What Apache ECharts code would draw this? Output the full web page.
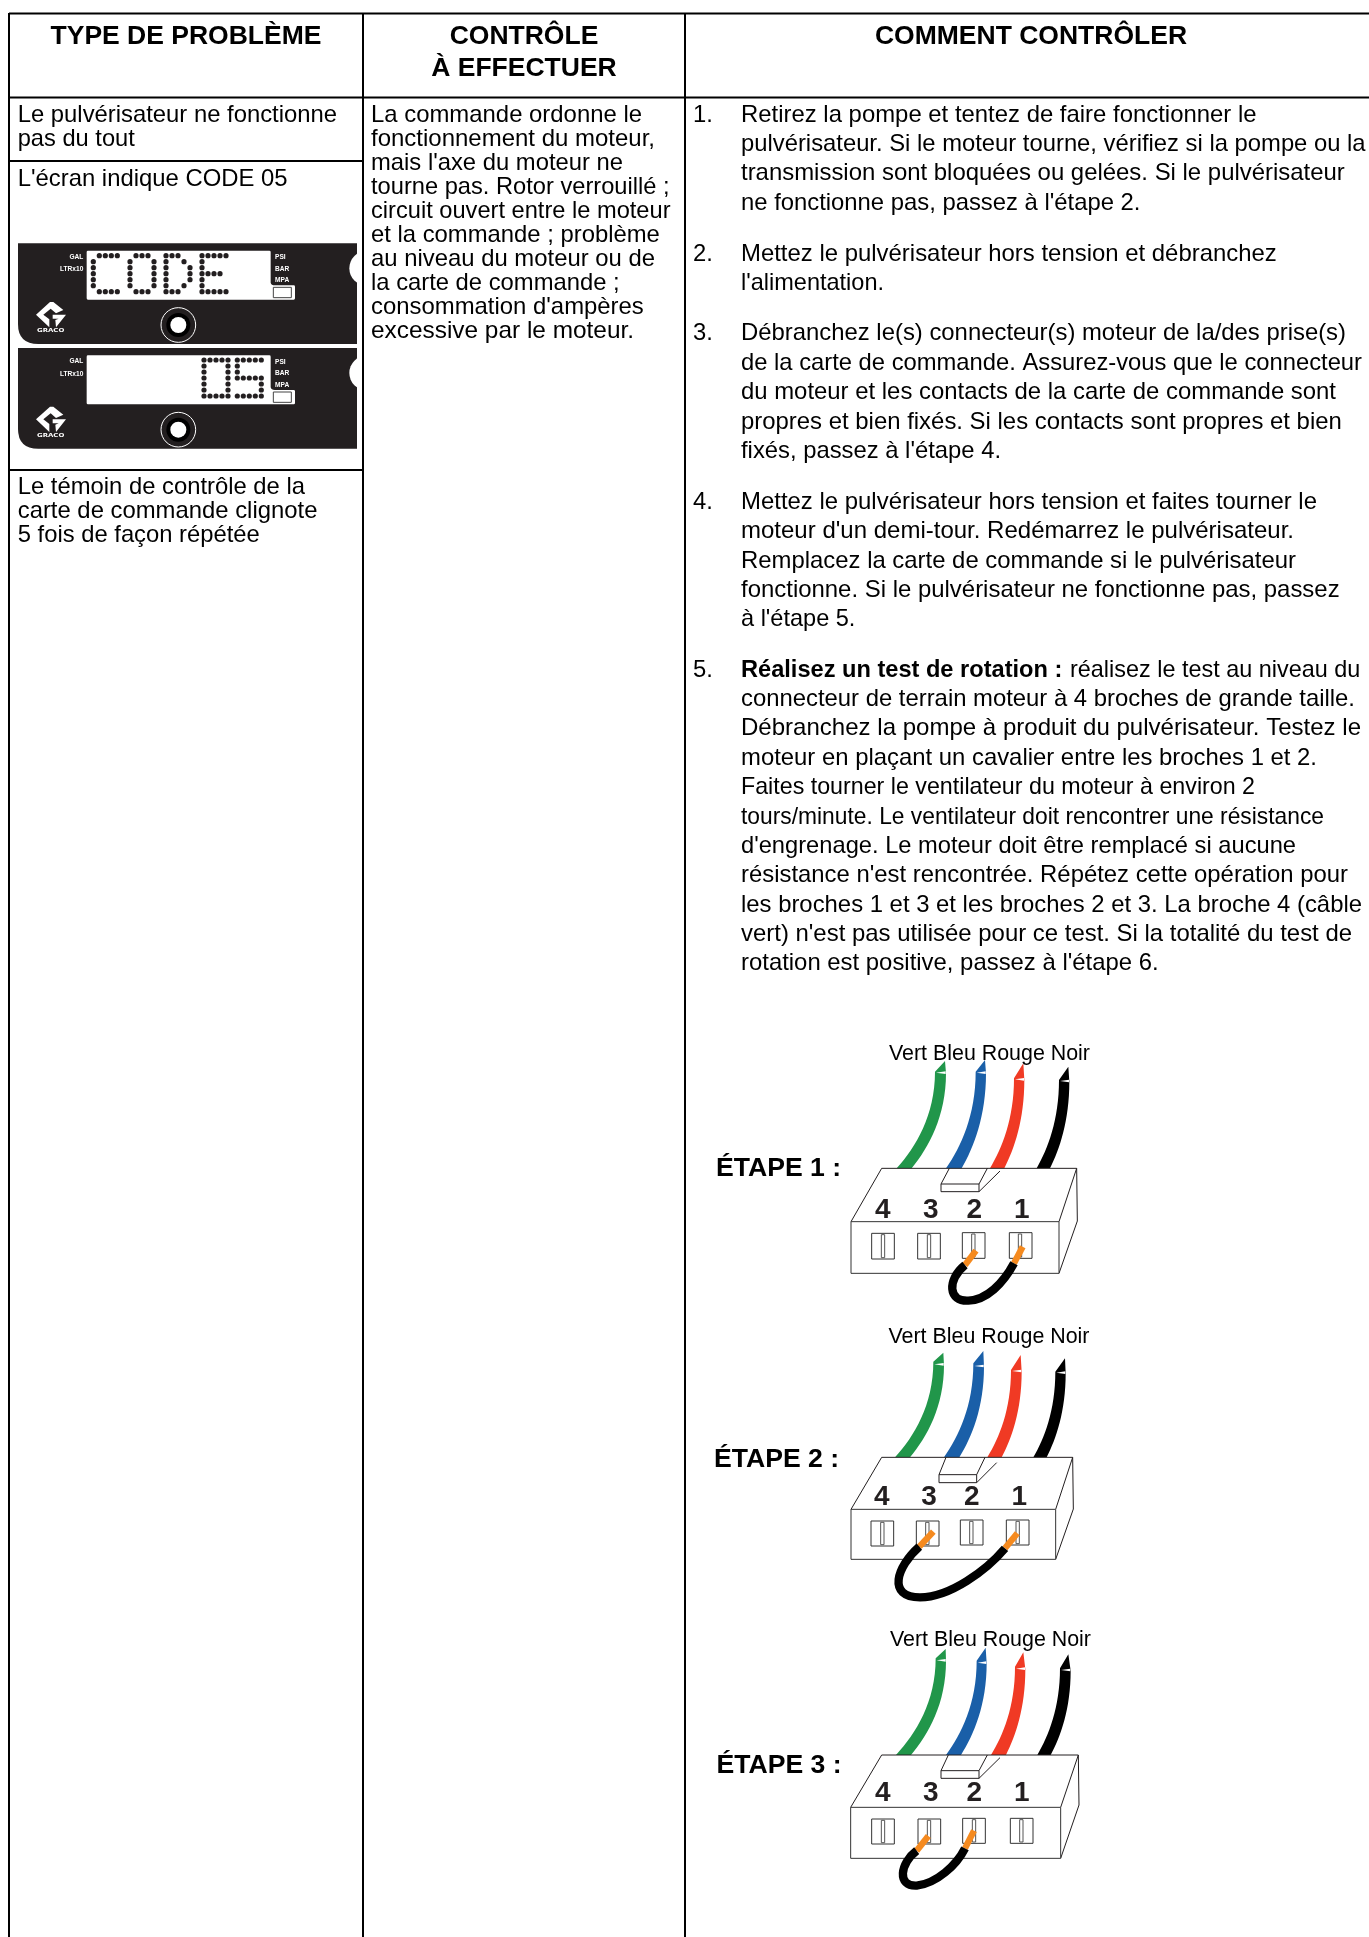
<!DOCTYPE html>
<html>
<head>
<meta charset="utf-8">
<title>Type de problème</title>
<script src="https://cdn.jsdelivr.net/npm/echarts@6/dist/echarts.min.js"></script>
<style>
  html, body { margin: 0; padding: 0; background: #fff; }
  #main { width: 1369px; height: 1937px; }
</style>
</head>
<body>
<div id="main"></div>
<script>
// texts of the table
const headerType = ['TYPE DE PROBLÈME']
const headerCheck = ['CONTRÔLE', 'À EFFECTUER']
const headerHow = ['COMMENT CONTRÔLER']

const typeSpray = ['Le pulvérisateur ne fonctionne', 'pas du tout']
const typeScreen = ["L'écran indique CODE 05"]
const typeLed = ['Le témoin de contrôle de la', 'carte de commande clignote', '5 fois de façon répétée']

const checkLines = [
  'La commande ordonne le',
  'fonctionnement du moteur,',
  "mais l'axe du moteur ne",
  'tourne pas. Rotor verrouillé ;',
  'circuit ouvert entre le moteur',
  'et la commande ; problème',
  'au niveau du moteur ou de',
  'la carte de commande ;',
  "consommation d'ampères",
  'excessive par le moteur.'
]

const step1 = [
  'Retirez la pompe et tentez de faire fonctionner le',
  'pulvérisateur. Si le moteur tourne, vérifiez si la pompe ou la',
  'transmission sont bloquées ou gelées. Si le pulvérisateur',
  "ne fonctionne pas, passez à l'étape 2."
]
const step2 = [
  'Mettez le pulvérisateur hors tension et débranchez',
  "l'alimentation."
]
const step3 = [
  'Débranchez le(s) connecteur(s) moteur de la/des prise(s)',
  'de la carte de commande. Assurez-vous que le connecteur',
  'du moteur et les contacts de la carte de commande sont',
  'propres et bien fixés. Si les contacts sont propres et bien',
  "fixés, passez à l'étape 4."
]
const step4 = [
  'Mettez le pulvérisateur hors tension et faites tourner le',
  "moteur d'un demi-tour. Redémarrez le pulvérisateur.",
  'Remplacez la carte de commande si le pulvérisateur',
  'fonctionne. Si le pulvérisateur ne fonctionne pas, passez',
  "à l'étape 5."
]
const step5Bold = 'Réalisez un test de rotation :'
const step5First = 'réalisez le test au niveau du'
const step5 = [
  'connecteur de terrain moteur à 4 broches de grande taille.',
  'Débranchez la pompe à produit du pulvérisateur. Testez le',
  'moteur en plaçant un cavalier entre les broches 1 et 2.',
  'Faites tourner le ventilateur du moteur à environ 2',
  'tours/minute. Le ventilateur doit rencontrer une résistance',
  "d'engrenage. Le moteur doit être remplacé si aucune",
  "résistance n'est rencontrée. Répétez cette opération pour",
  'les broches 1 et 3 et les broches 2 et 3. La broche 4 (câble',
  "vert) n'est pas utilisée pour ce test. Si la totalité du test de",
  "rotation est positive, passez à l'étape 6."
]

const wireNames = 'Vert Bleu Rouge Noir'
const wireColors = ['#21964a', '#1a5fa8', '#f03a24', '#000000']
const pinNames = ['4', '3', '2', '1']
const stageNames = ['ÉTAPE 1 :', 'ÉTAPE 2 :', 'ÉTAPE 3 :']
const panelLeftLabels = ['GAL', 'LTRx10']
const panelRightLabels = ['PSI', 'BAR', 'MPA']

// dot matrix glyphs of the display
const glyphC = ['.XXXX', 'X....', 'X....', 'X....', 'X....', 'X....', '.XXXX']
const glyphO = ['.XXX.', 'X...X', 'X...X', 'X...X', 'X...X', 'X...X', '.XXX.']
const glyphD = ['XXX..', 'X..X.', 'X...X', 'X...X', 'X...X', 'X..X.', 'XXX..']
const glyphE = ['XXXXX', 'X....', 'X....', 'XXXX.', 'X....', 'X....', 'XXXXX']
const glyph0 = ['XXXXX', 'X...X', 'X...X', 'X...X', 'X...X', 'X...X', 'XXXXX']
const glyph5 = ['XXXXX', 'X....', 'X....', 'XXXXX', '....X', '....X', 'XXXXX']

// right end of each text line on the page, the source sets them tighter or looser line by line
const endsSpray = [337, 134.8]
const endsScreen = [287.5]
const endsLed = [305, 317.4, 259.8]
const endsCheck = [642, 655, 623, 669.6, 670.5, 659.8, 655, 619.6, 643.8, 634]
const endsStep1 = [1256.5, 1365.6, 1344.8, 1140.4]
const endsStep2 = [1276.8, 884]
const endsStep3 = [1346, 1362, 1336, 1341.8, 1001]
const endsStep4 = [1317, 1294, 1296, 1339.6, 855.4]
const endsStep5 = [1355, 1361, 1317, 1255, 1324, 1296, 1348, 1362, 1352, 1158.6]

const FONT = '"Liberation Sans", Arial, sans-serif'
const NARROW = '"Liberation Sans Narrow", ' + FONT
const BODY = 23.8
const BLACK = '#000'
const DARK = '#231f20'

const elements = []
const measureCtx = document.createElement('canvas').getContext('2d')

function fontOf(size, bold, family) {
  return (bold ? 'bold ' : '') + size + 'px ' + (family || FONT)
}

function text(x, y, str, size, opt) {
  opt = opt || {}
  return {
    type: 'text',
    x: x,
    y: y,
    scaleX: opt.scaleX || 1,
    silent: true,
    style: {
      text: str,
      fill: opt.fill || BLACK,
      align: opt.align || 'left',
      verticalAlign: 'middle',
      font: fontOf(size, opt.bold, opt.family)
    }
  }
}

// squeeze or stretch one line so it stops at endX
function fitted(x, y, str, size, endX, bold) {
  measureCtx.font = fontOf(size, bold)
  const w = measureCtx.measureText(str).width
  return text(x, y, str, size, { bold: bold, scaleX: (endX - x) / w })
}

function textBlock(x, y, lines, size, pitch, opt) {
  lines.forEach(function (l, i) {
    elements.push(text(x, y + i * pitch, l, size, opt))
  })
}

function fittedBlock(x, y, lines, ends, pitch) {
  lines.forEach(function (l, i) {
    elements.push(fitted(x, y + i * pitch, l, BODY, ends[i]))
  })
}

function tableLine(x1, y1, x2, y2) {
  elements.push({
    type: 'line',
    silent: true,
    shape: { x1: x1, y1: y1, x2: x2, y2: y2 },
    style: { stroke: BLACK, lineWidth: 2 }
  })
}

function path(d, fill, stroke, lw) {
  return { type: 'path', silent: true, shape: { pathData: d }, style: { fill: fill || 'none', stroke: stroke || 'none', lineWidth: lw || 0 } }
}

// the two black display panels, drawn in a frame 3 times the real size
function panel(offsetY) {
  const c = []
  c.push(path('M54,40 L1071,40 L1071,342 L115,342 Q54,342 54,282 Z', DARK))
  c.push({ type: 'circle', silent: true, shape: { cx: 1100, cy: 115, r: 52 }, style: { fill: '#fff' } })
  c.push(path('M264,62 L808,62 Q812,62 812,66 L812,158 Q814,166 824,166 L881,166 Q885,166 885,170 L885,205 Q885,209 881,209 L264,209 Q260,209 260,205 L260,66 Q260,62 264,62 Z', '#fff'))
  c.push({ type: 'rect', silent: true, shape: { x: 820, y: 172, width: 54, height: 31 }, style: { fill: '#fff', stroke: '#444', lineWidth: 3 } })
  panelLeftLabels.forEach(function (l, i) {
    c.push(text(250, 80 + i * 37, l, 22, { fill: '#fff', align: 'right', bold: true, family: NARROW, scaleX: 0.9 }))
  })
  panelRightLabels.forEach(function (l, i) {
    c.push(text(825, 81 + i * 35, l, 22, { fill: '#fff', bold: true, family: NARROW, scaleX: 0.9 }))
  })
  // logo
  c.push(path('M150,216 L108,254 L148,292 L148,268 L130,254 L152,236 L168,250 L190,240 L160,216 Z', '#fff'))
  c.push(path('M158,254 L198,254 L168,292 L166,270 L176,266 L158,266 Z', '#fff'))
  c.push(text(152, 303, 'GRACO', 16, { fill: '#fff', align: 'center', bold: true, family: '"DejaVu Sans", ' + FONT, scaleX: 1.3 }))
  // knob
  c.push({ type: 'circle', silent: true, shape: { cx: 535, cy: 285, r: 52 }, style: { fill: DARK, stroke: '#fff', lineWidth: 3 } })
  c.push({ type: 'circle', silent: true, shape: { cx: 535, cy: 285, r: 36 }, style: { fill: '#000' } })
  c.push({ type: 'circle', silent: true, shape: { cx: 535, cy: 285, r: 24 }, style: { fill: '#fff' } })
  elements.push({ type: 'group', x: 0, y: offsetY, scaleX: 1 / 3, scaleY: 1 / 3, children: c })
}

const connectorLayout = [
  {
    oy: 1030, top: 415, xl: 545, xr: 1130, fl: 453, fr: 1077, ft: 575, fb: 730, rb: 573,
    latch: [723, 462, 114, 23, 748, 862, 900, 423], pinY: 540, pins: [548, 692, 823, 965],
    sockets: [[515, 610, 544], [653, 610, 682], [787, 608, 815], [928, 608, 955]], sh: 77,
    wires: [
      [590, 635, 705, 125, 738, 130, 735, 93],
      [738, 785, 827, 125, 858, 130, 855, 90],
      [870, 913, 942, 145, 973, 150, 970, 100],
      [1010, 1050, 1077, 150, 1108, 155, 1105, 110]
    ],
    jumper: 'M795,705 C740,750 745,815 805,812 C860,810 910,760 942,700',
    tips: [[795, 705, 828, 662], [942, 700, 968, 650]]
  },
  {
    oy: 1320, top: 412, xl: 545, xr: 1118, fl: 453, fr: 1067, ft: 568, fb: 718, rb: 567,
    latch: [717, 464, 113, 24, 738, 855, 890, 428], pinY: 533, pins: [545, 687, 815, 958],
    sockets: [[513, 603, 542], [649, 603, 677], [781, 600, 809], [919, 600, 948]], sh: 75,
    wires: [
      [585, 630, 700, 125, 732, 135, 730, 98],
      [732, 778, 820, 130, 852, 140, 850, 93],
      [862, 905, 933, 150, 965, 155, 962, 105],
      [1000, 1040, 1066, 155, 1097, 160, 1095, 115]
    ],
    jumper: 'M658,680 C590,740 560,832 660,832 C750,832 860,750 915,685',
    tips: [[658, 680, 700, 635], [915, 685, 952, 640]]
  },
  {
    oy: 1620, top: 405, xl: 545, xr: 1135, fl: 452, fr: 1082, ft: 562, fb: 715, rb: 555,
    latch: [723, 452, 114, 23, 745, 862, 900, 413], pinY: 520, pins: [548, 692, 823, 965],
    sockets: [[515, 597, 544], [654, 597, 682], [788, 595, 817], [931, 595, 959]], sh: 75,
    wires: [
      [588, 633, 707, 115, 738, 123, 737, 87],
      [738, 783, 830, 122, 860, 130, 857, 83],
      [873, 918, 945, 140, 976, 148, 970, 97],
      [1012, 1052, 1080, 145, 1112, 152, 1105, 103]
    ],
    jumper: 'M650,692 C600,730 590,800 650,797 C710,790 770,735 795,685',
    tips: [[650, 692, 685, 648], [795, 685, 822, 632]]
  }
]

function seg(x1, y1, x2, y2, lw, color) {
  return {
    type: 'line',
    silent: true,
    shape: { x1: x1, y1: y1, x2: x2, y2: y2 },
    style: { stroke: color || DARK, lineWidth: lw || 3 }
  }
}

function connector(g) {
  const c = []
  const t = g.top
  g.wires.forEach(function (w, i) {
    const bl = w[0], br = w[1], tlx = w[2], tly = w[3], trx = w[4], try_ = w[5], tipx = w[6], tipy = w[7]
    const d = 'M' + bl + ',' + t +
      ' C' + (bl + 0.5 * (tlx - bl)) + ',' + (t - 0.22 * (t - tly)) + ' ' + tlx + ',' + (tly + 0.45 * (t - tly)) + ' ' + tlx + ',' + tly +
      ' L' + tipx + ',' + tipy + ' L' + trx + ',' + try_ +
      ' C' + trx + ',' + (try_ + 0.45 * (t - try_)) + ' ' + (br + 0.5 * (trx - br)) + ',' + (t - 0.22 * (t - try_)) + ' ' + br + ',' + t + ' Z'
    c.push(path(d, wireColors[i]))
    c.push(path('M' + (tlx + 3) + ',' + (try_ - 2) + ' L' + (trx - 1) + ',' + (try_ - 6) + ' L' + (trx - 1) + ',' + (try_ + 2) + ' Z', '#fff'))
  })
  // housing
  c.push(seg(g.xl, t, g.xr, t))
  c.push(seg(g.xl, t, g.fl, g.ft))
  c.push(seg(g.xr, t, g.fr, g.ft))
  c.push(seg(g.xr, t, g.xr + 2, g.rb))
  c.push(seg(g.xr + 2, g.rb, g.fr, g.fb))
  c.push({ type: 'rect', silent: true, shape: { x: g.fl, y: g.ft, width: g.fr - g.fl, height: g.fb - g.ft }, style: { fill: '#fff', stroke: '#333', lineWidth: 3 } })
  // latch
  const la = g.latch
  c.push({ type: 'rect', silent: true, shape: { x: la[0], y: la[1], width: la[2], height: la[3] }, style: { fill: '#fff', stroke: DARK, lineWidth: 3 } })
  c.push(seg(la[4], t, la[0], la[1]))
  c.push(seg(la[5], t, la[0] + la[2], la[1]))
  c.push(seg(la[6], la[7], la[0] + la[2], la[1] + la[3]))
  // pin numbers and sockets
  pinNames.forEach(function (p, i) {
    c.push(text(g.pins[i], g.pinY, p, 84, { fill: DARK, align: 'center', bold: true }))
  })
  g.sockets.forEach(function (s) {
    c.push({ type: 'rect', silent: true, shape: { x: s[0], y: s[1], width: 68, height: g.sh }, style: { fill: '#fff', stroke: '#333', lineWidth: 3 } })
    c.push({ type: 'rect', silent: true, shape: { x: s[2], y: s[1] + 4, width: 10, height: g.sh - 8 }, style: { fill: '#fff', stroke: '#555', lineWidth: 3 } })
  })
  // jumper
  g.tips.forEach(function (p) {
    c.push(path('M' + p[0] + ',' + p[1] + ' L' + p[2] + ',' + p[3], null, '#f58a1f', 19))
  })
  c.push(path(g.jumper, null, '#000', 25))
  elements.push({ type: 'group', x: 700, y: g.oy, scaleX: 1 / 3, scaleY: 1 / 3, children: c })
}

// panels go first, the table lines sit on top of them
panel(230)
panel(334.67)

tableLine(9, 13.5, 1369, 13.5)
tableLine(9, 97.5, 1369, 97.5)
tableLine(9, 13, 9, 1937)
tableLine(363, 13, 363, 1937)
tableLine(685, 13, 685, 1937)
tableLine(9, 161, 363, 161)
tableLine(9, 470, 363, 470)

textBlock(186, 36.2, headerType, 26.5, 32, { bold: true, align: 'center' })
textBlock(524, 36.2, headerCheck, 26.5, 32, { bold: true, align: 'center' })
textBlock(1031, 36.2, headerHow, 26.5, 32, { bold: true, align: 'center' })

fittedBlock(17.7, 115.2, typeSpray, endsSpray, 24.3)
fittedBlock(17.7, 179.2, typeScreen, endsScreen, 24.3)
fittedBlock(17.7, 487.2, typeLed, endsLed, 24.3)
fittedBlock(371, 115.2, checkLines, endsCheck, 24)

const NUM_X = 693
const STEP_X = 741
const PITCH = 29.35
const steps = [
  [115.2, '1.', step1, endsStep1],
  [254.2, '2.', step2, endsStep2],
  [333.9, '3.', step3, endsStep3],
  [502.4, '4.', step4, endsStep4]
]
steps.forEach(function (s) {
  elements.push(text(NUM_X, s[0], s[1], BODY))
  fittedBlock(STEP_X, s[0], s[2], s[3], PITCH)
})
elements.push(text(NUM_X, 670.2, '5.', BODY))
elements.push(fitted(STEP_X, 670.2, step5Bold, BODY, 1062.3, true))
elements.push(fitted(1070, 670.2, step5First, BODY, 1360.4, false))
fittedBlock(STEP_X, 670.2 + PITCH, step5, endsStep5, PITCH)

connectorLayout.forEach(connector)

elements.push(text(889, 1054, wireNames, 21.4))
elements.push(text(888.5, 1337.5, wireNames, 21.4))
elements.push(text(890, 1640.5, wireNames, 21.4))
elements.push(text(716, 1168.5, stageNames[0], 26.6, { bold: true }))
elements.push(text(714, 1460, stageNames[1], 26.6, { bold: true }))
elements.push(text(716.5, 1766, stageNames[2], 26.6, { bold: true }))

// display dots go through a hidden pixel grid
const dots = []
function addGlyph(glyph, x0, y0) {
  glyph.forEach(function (row, r) {
    row.split('').forEach(function (ch, col) {
      if (ch === 'X') dots.push([x0 + col * 6, y0 + r * 6])
    })
  })
}
addGlyph(glyphC, 93.3, 255.7)
addGlyph(glyphO, 130, 255.7)
addGlyph(glyphD, 166, 255.7)
addGlyph(glyphE, 202, 255.7)
addGlyph(glyph0, 204, 360)
addGlyph(glyph5, 237.3, 360)

const chart = echarts.init(document.getElementById('main'), null, { renderer: 'canvas' })
chart.setOption({
  animation: false,
  backgroundColor: '#fff',
  grid: { left: 0, right: 0, top: 0, bottom: 0 },
  xAxis: { type: 'value', min: 0, max: 1369, show: false },
  yAxis: { type: 'value', min: 0, max: 1937, inverse: true, show: false },
  series: [{
    // the graphic component has no free path element, a custom series does
    type: 'custom',
    silent: true,
    z: 1,
    clip: false,
    data: [[0, 0]],
    renderItem: function () {
      return { type: 'group', children: elements }
    }
  }, {
    type: 'scatter',
    silent: true,
    z: 3,
    symbolSize: 5.2,
    itemStyle: { color: DARK, opacity: 1 },
    data: dots
  }]
})
</script>
</body>
</html>
